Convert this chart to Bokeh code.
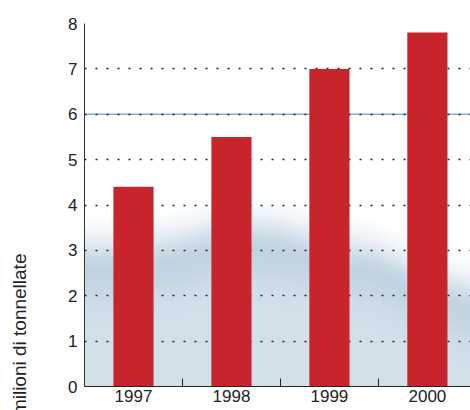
import numpy as np
from bokeh.plotting import figure
from bokeh.models import FixedTicker, Span
from bokeh.embed import file_html
from bokeh.resources import INLINE

# ---- data ----
years = ["1997", "1998", "1999", "2000"]
values = [4.4, 5.5, 7.0, 7.8]
y_ticks = [0, 1, 2, 3, 4, 5, 6, 7, 8]
y_label = "milioni di tonnellate"

# decorative background (photo-like haze) upper edge
haze_x = [0.5, 1.0, 1.5, 2.0, 2.5, 3.0, 3.5, 4.0, 4.44]
haze_top = [3.9, 3.9, 4.1, 4.4, 4.3, 4.0, 3.8, 3.3, 3.0]

xs = list(range(1, len(years) + 1))

p = figure(width=470, height=410, output_backend="svg", toolbar_location=None,
           x_range=(0.5, 4.44), y_range=(0, 8),
           min_border_left=84, min_border_right=0, min_border_top=23,
           min_border_bottom=24)
p.outline_line_color = None
p.background_fill_color = "white"
p.border_fill_color = "white"

# haze image
nx, ny = 200, 120
x0, x1, y0, y1 = 0.5, 4.44, 0.0, 4.6
gx = np.linspace(x0, x1, nx)
gy = np.linspace(y0, y1, ny)
top = np.interp(gx, haze_x, haze_top)
Y, _ = np.meshgrid(gy, gx, indexing="ij")
d = top[None, :] - Y  # distance below edge
a = np.clip(d / 1.4, 0, 1)
a = a * a * (3 - 2 * a)
band = np.exp(-((d - 1.3) ** 2) / 0.5)
light = np.array([206, 222, 233], float)
dark = np.array([160, 188, 207], float)
w = 0.45 * band[..., None]
col = light[None, None, :] * (1 - w) + dark[None, None, :] * w
img = np.zeros((ny, nx), dtype=np.uint32)
view = img.view(dtype=np.uint8).reshape((ny, nx, 4))
view[..., 0] = col[..., 0].astype(np.uint8)
view[..., 1] = col[..., 1].astype(np.uint8)
view[..., 2] = col[..., 2].astype(np.uint8)
view[..., 3] = (a * 230).astype(np.uint8)
p.image_rgba(image=[img], x=x0, y=y0, dw=x1 - x0, dh=y1 - y0, level="image")

# blue line at 6
p.add_layout(Span(location=6, dimension="width", line_color="#7db4e0",
                  line_width=1.6, level="image"))

# grid
p.xgrid.grid_line_color = None
p.ygrid.ticker = FixedTicker(ticks=y_ticks)
p.ygrid.grid_line_color = "#222222"
p.ygrid.grid_line_dash = "2 9"
p.ygrid.grid_line_width = 1.3

# bars
p.vbar(x=xs, top=values, width=0.41, fill_color="#c8242c", line_color=None)

# y axis
p.yaxis.ticker = FixedTicker(ticks=y_ticks)
p.yaxis.major_tick_in = 0
p.yaxis.major_tick_out = 0
p.yaxis.minor_tick_line_color = None
p.yaxis.axis_line_color = "#333333"
p.yaxis.major_label_text_font = "Liberation Sans"
p.yaxis.major_label_text_font_size = "17px"
p.yaxis.major_label_text_color = "#222222"
p.yaxis.major_label_standoff = 7
# label sits low on the axis: pad its end so its centre falls near the bottom
p.yaxis.axis_label = y_label + "\u00a0" * 49
p.yaxis.axis_label_text_font = "Liberation Sans"
p.yaxis.axis_label_text_font_size = "19px"
p.yaxis.axis_label_text_font_style = "normal"
p.yaxis.axis_label_text_color = "#222222"
p.yaxis.axis_label_standoff = 35

# x axis
p.xaxis.ticker = FixedTicker(ticks=xs, minor_ticks=[1.5, 2.5, 3.5])
p.xaxis.major_label_overrides = {x: y for x, y in zip(xs, years)}
p.xaxis.major_tick_in = 0
p.xaxis.major_tick_out = 0
p.xaxis.minor_tick_in = 8
p.xaxis.minor_tick_out = 0
p.xaxis.minor_tick_line_color = "#222222"
p.xaxis.axis_line_color = "#222222"
p.xaxis.major_label_text_font = "Liberation Sans"
p.xaxis.major_label_text_font_size = "17px"
p.xaxis.major_label_text_color = "#222222"
p.xaxis.major_label_standoff = 3

open("out.html", "w").write(file_html(p, INLINE))
